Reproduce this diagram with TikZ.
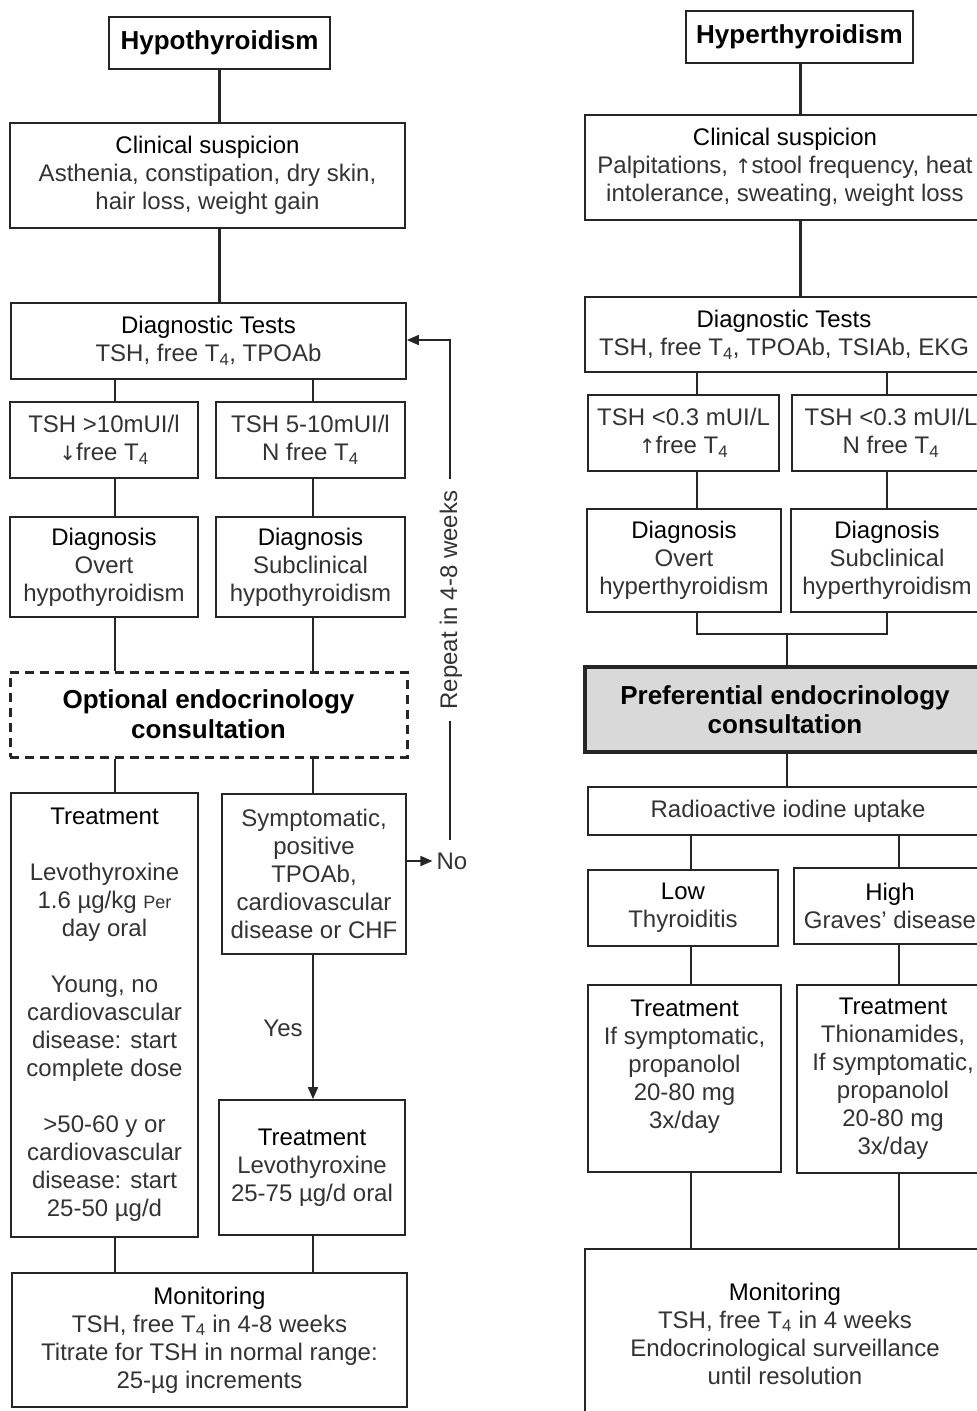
\documentclass[tikz,border=0pt]{standalone}
\usepackage{fontspec}
\setmainfont{Liberation Sans}
\newfontfamily\arrfont{DejaVu Sans}
\usetikzlibrary{arrows.meta}
\newcommand{\hdr}[1]{\textcolor{black}{#1}}
\newcommand{\uparr}{{\arrfont\fontsize{20}{28}\selectfont ↑}}
\newcommand{\dnarr}{{\arrfont\fontsize{20}{28}\selectfont ↓}}
\begin{document}
\begin{tikzpicture}[x=1pt,y=-1pt,
  box/.style={draw=black!85, line width=1.8pt, inner sep=0pt, align=center, text=black!80, font=\fontsize{24}{28}\selectfont},
  ttl/.style={box, text=black, font=\bfseries\fontsize{26}{30}\selectfont},
  conn/.style={draw=black!85, line width=1.8pt},
  thkconn/.style={draw=black!85, line width=3pt},
  arr/.style={conn, -{Triangle[length=12pt,width=10pt]}},
  lbl/.style={text=black!80, font=\fontsize{24}{28}\selectfont, inner sep=1pt}
]
\useasboundingbox (0,0) rectangle (977,1411);
\fill[white] (0,0) rectangle (977,1411);

% column coordinates
\coordinate (cA) at (115,0);
\coordinate (cB) at (313,0);
\coordinate (cH) at (800,0);
\coordinate (cC) at (697,0);
\coordinate (cD) at (887,0);
\coordinate (cM) at (787,0);
\coordinate (cE) at (691,0);
\coordinate (cF) at (899,0);

% ---------------- left: hypothyroidism ----------------
\node[ttl, minimum width=221pt, minimum height=52pt] (hypo) at (219.5,43) {Hypothyroidism};
\node[box, minimum width=395pt, minimum height=105pt] (cs1) at (207.5,175.5)
  {\hdr{Clinical suspicion}\\Asthenia, constipation, dry skin,\\hair loss, weight gain};
\node[box, minimum width=395pt, minimum height=76pt] (dt1) at (208.5,341)
  {\hdr{Diagnostic Tests}\\TSH, free T\textsubscript{4}, TPOAb};
\node[box, minimum width=188pt, minimum height=76pt] (tsh1a) at (104,440)
  {TSH >10mUI/l\\\dnarr free T\textsubscript{4}};
\node[box, minimum width=189pt, minimum height=76pt] (tsh1b) at (310.5,440)
  {TSH 5-10mUI/l\\N free T\textsubscript{4}};
\node[box, minimum width=188pt, minimum height=100pt] (dg1a) at (104,567)
  {\hdr{Diagnosis}\\Overt\\hypothyroidism};
\node[box, minimum width=189pt, minimum height=100pt] (dg1b) at (310.5,567)
  {\hdr{Diagnosis}\\Subclinical\\hypothyroidism};
\node[ttl, line width=3pt, dash pattern=on 9pt off 6pt, minimum width=397pt, minimum height=85pt] (opt) at (208.5,714.5)
  {Optional endocrinology\\consultation};
\node[box, minimum width=187pt, minimum height=444pt] (tr1) at (104.5,1015)
  {\hdr{Treatment}\\[28pt]Levothyroxine\\1.6 µg/kg {\fontsize{18}{28}\selectfont Per}\\day oral\\[28pt]Young, no\\cardiovascular\\disease: start\\complete dose\\[28pt]>50-60 y or\\cardiovascular\\disease: start\\25-50 µg/d};
\node[box, minimum width=184pt, minimum height=160pt] (sym) at (314,874)
  {Symptomatic,\\positive\\TPOAb,\\cardiovascular\\disease or CHF};
\node[box, minimum width=186pt, minimum height=135pt] (tr1b) at (312,1167.5)
  {\hdr{Treatment}\\Levothyroxine\\25-75 µg/d oral};
\node[box, minimum width=395pt, minimum height=134pt] (mon1) at (209.5,1340)
  {\hdr{Monitoring}\\TSH, free T\textsubscript{4} in 4-8 weeks\\Titrate for TSH in normal range:\\25-µg increments};
\node[lbl, inner sep=4pt] (no) at (452,861) {No};
\node[lbl] (yes) at (283,1028) {Yes};

\draw[thkconn] (hypo.south) -- (hypo.south |- cs1.north);
\draw[thkconn] (hypo.south |- cs1.south) -- (hypo.south |- dt1.north);
\draw[conn] (dt1.south -| cA) -- (tsh1a.north -| cA);
\draw[conn] (dt1.south -| cB) -- (tsh1b.north -| cB);
\draw[conn] (tsh1a.south -| cA) -- (dg1a.north -| cA);
\draw[conn] (tsh1b.south -| cB) -- (dg1b.north -| cB);
\draw[conn] (dg1a.south -| cA) -- (opt.north -| cA);
\draw[conn] (dg1b.south -| cB) -- (opt.north -| cB);
\draw[conn] (opt.south -| cA) -- (tr1.north -| cA);
\draw[conn] (opt.south -| cB) -- (sym.north -| cB);
\draw[arr] (sym.south -| cB) -- (tr1b.north -| cB);
\draw[conn] (tr1.south -| cA) -- (mon1.north -| cA);
\draw[conn] (tr1b.south -| cB) -- (mon1.north -| cB);
\coordinate (noy) at (0,861);
\draw[arr] (sym.east |- noy) -- (no.west);
\coordinate (rb) at (450,840);
\coordinate (rt) at (450,340);
\draw[arr] (rb) -- (rt) -- (dt1.east |- rt);
\node[lbl, fill=white, rotate=90, inner xsep=12pt, inner ysep=2pt] (rep) at (451,600) {Repeat in 4-8 weeks};

% ---------------- right: hyperthyroidism ----------------
\node[ttl, minimum width=227pt, minimum height=52pt] (hyper) at (799.5,37) {Hyperthyroidism};
\node[box, minimum width=400pt, minimum height=105pt] (cs2) at (785,167.5)
  {\hdr{Clinical suspicion}\\Palpitations, \uparr stool frequency, heat\\intolerance, sweating, weight loss};
\node[box, minimum width=398pt, minimum height=75pt] (dt2) at (784,334.5)
  {\hdr{Diagnostic Tests}\\TSH, free T\textsubscript{4}, TPOAb, TSIAb, EKG};
\node[box, minimum width=191pt, minimum height=76pt] (tsh2a) at (683.5,433)
  {TSH <0.3 mUI/L\\\uparr free T\textsubscript{4}};
\node[box, minimum width=198pt, minimum height=76pt] (tsh2b) at (891,433)
  {TSH <0.3 mUI/L\\N free T\textsubscript{4}};
\node[box, minimum width=194pt, minimum height=103pt] (dg2a) at (684,560.5)
  {\hdr{Diagnosis}\\Overt\\hyperthyroidism};
\node[box, minimum width=192pt, minimum height=103pt] (dg2b) at (887,560.5)
  {\hdr{Diagnosis}\\Subclinical\\hyperthyroidism};
\node[ttl, line width=3.5pt, fill=black!15, font=\bfseries\fontsize{26}{29}\selectfont, minimum width=400pt, minimum height=85pt] (pref) at (785,709.5)
  {Preferential endocrinology\\consultation};
\node[box, minimum width=400pt, minimum height=48pt] (rai) at (788,811)
  {Radioactive iodine uptake};
\node[box, minimum width=190pt, minimum height=76pt] (low) at (683,908)
  {\hdr{Low}\\Thyroiditis};
\node[box, minimum width=192pt, minimum height=76pt] (high) at (890,906)
  {\hdr{High}\\Graves’ disease};
\node[box, minimum width=193pt, minimum height=187pt] (tr2a) at (684.5,1078.5)
  {\hdr{Treatment}\\If symptomatic,\\propanolol\\20-80 mg\\3x/day\\\mbox{}};
\node[box, minimum width=192pt, minimum height=188pt] (tr2b) at (893,1079)
  {\hdr{Treatment}\\Thionamides,\\If symptomatic,\\propanolol\\20-80 mg\\3x/day};
\node[box, minimum width=400pt, minimum height=169pt] (mon2) at (785,1333.5)
  {\hdr{Monitoring}\\TSH, free T\textsubscript{4} in 4 weeks\\Endocrinological surveillance\\until resolution};

\draw[thkconn] (hyper.south -| cH) -- (cs2.north -| cH);
\draw[thkconn] (cs2.south -| cH) -- (dt2.north -| cH);
\draw[conn] (dt2.south -| cC) -- (tsh2a.north -| cC);
\draw[conn] (dt2.south -| cD) -- (tsh2b.north -| cD);
\draw[conn] (tsh2a.south -| cC) -- (dg2a.north -| cC);
\draw[conn] (tsh2b.south -| cD) -- (dg2b.north -| cD);
\coordinate (jy) at (0,634);
\draw[conn] (dg2a.south -| cC) -- (cC |- jy) -- (cD |- jy) -- (dg2b.south -| cD);
\draw[conn] (cM |- jy) -- (pref.north -| cM);
\draw[conn] (pref.south -| cM) -- (rai.north -| cM);
\draw[conn] (rai.south -| cE) -- (low.north -| cE);
\draw[conn] (rai.south -| cF) -- (high.north -| cF);
\draw[conn] (low.south -| cE) -- (tr2a.north -| cE);
\draw[conn] (high.south -| cF) -- (tr2b.north -| cF);
\draw[conn] (tr2a.south -| cE) -- (mon2.north -| cE);
\draw[conn] (tr2b.south -| cF) -- (mon2.north -| cF);
\end{tikzpicture}
\end{document}
